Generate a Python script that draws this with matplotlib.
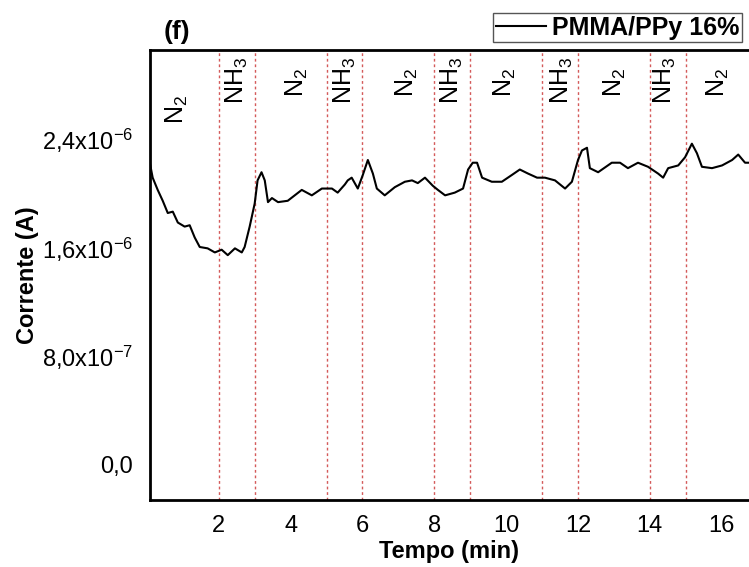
import numpy as np
import matplotlib.pyplot as plt
import matplotlib.transforms as mtransforms

plt.rcParams['font.family'] = ['Liberation Sans', 'DejaVu Sans']
plt.rcParams['mathtext.fontset'] = 'custom'
plt.rcParams['mathtext.rm'] = 'Liberation Sans'
plt.rcParams['mathtext.it'] = 'Liberation Sans'

# (time in min, current in 1e-6 A)
tempo = [0.08, 0.16, 0.30, 0.44, 0.58, 0.72, 0.86, 1.05, 1.19, 1.33, 1.47, 1.69, 1.89,
         2.08, 2.25, 2.45, 2.64, 2.72, 2.86, 3.00, 3.08, 3.19, 3.28, 3.37, 3.48, 3.65,
         3.92, 4.31, 4.59, 4.87, 5.15, 5.31, 5.51, 5.59, 5.70, 5.87, 6.01, 6.15, 6.29,
         6.40, 6.62, 6.90, 7.18, 7.38, 7.54, 7.74, 7.96, 8.10, 8.30, 8.57, 8.80, 8.94,
         9.07, 9.19, 9.33, 9.60, 9.88, 10.16, 10.38, 10.61, 10.86, 11.08, 11.36, 11.64,
         11.83, 12.00, 12.11, 12.25, 12.33, 12.56, 12.94, 13.17, 13.39, 13.67, 13.95,
         14.23, 14.37, 14.51, 14.79, 14.98, 15.17, 15.31, 15.45, 15.73, 16.01, 16.29,
         16.46, 16.65, 16.76]
corrente = [2.22, 2.11, 2.02, 1.94, 1.85, 1.86, 1.78, 1.75, 1.76, 1.67, 1.60, 1.59, 1.56,
            1.58, 1.54, 1.59, 1.56, 1.60, 1.75, 1.92, 2.09, 2.15, 2.09, 1.93, 1.96, 1.93,
            1.94, 2.02, 1.98, 2.03, 2.03, 2.00, 2.06, 2.09, 2.11, 2.03, 2.13, 2.24, 2.14,
            2.03, 1.98, 2.04, 2.08, 2.09, 2.07, 2.11, 2.05, 2.02, 1.98, 2.00, 2.03, 2.17,
            2.22, 2.22, 2.11, 2.08, 2.08, 2.13, 2.17, 2.14, 2.11, 2.11, 2.09, 2.03,
            2.08, 2.24, 2.31, 2.33, 2.18, 2.15, 2.22, 2.22, 2.18, 2.22, 2.19,
            2.14, 2.11, 2.18, 2.20, 2.26, 2.36, 2.29, 2.19, 2.18, 2.20, 2.24,
            2.28, 2.22, 2.22]

trocas = [2, 3, 5, 6, 8, 9, 11, 12, 14, 15]   # gas switching times
gases = ['N$_2$', 'NH$_3$', 'N$_2$', 'NH$_3$', 'N$_2$', 'NH$_3$',
         'N$_2$', 'NH$_3$', 'N$_2$', 'NH$_3$', 'N$_2$']
gas_x = [0.83, 2.50, 4.17, 5.51, 7.24, 8.49, 9.97, 11.55, 13.03, 14.42, 15.90]
gas_y = [0.867, 0.933, 0.927, 0.933, 0.927, 0.933, 0.927, 0.933, 0.927, 0.933, 0.927]

xticks = [2, 4, 6, 8, 10, 12, 14, 16]
yticks = [0, 0.8e-6, 1.6e-6, 2.4e-6]
ylabels = ['0,0', '8,0x10$^{-7}$', '1,6x10$^{-6}$', '2,4x10$^{-6}$']

fig = plt.figure(figsize=(7.49, 5.67), dpi=100)
ax = fig.add_axes([0.200, 0.118, 0.80, 0.794])

for t in trocas:
    ax.axvline(t, color='#d45a5a', lw=1.0, ls=(0, (2, 2)), zorder=1)

ax.plot(tempo, np.array(corrente) * 1e-6, color='black', lw=1.5, zorder=3,
        label='PMMA/PPy 16%')

trans = mtransforms.blended_transform_factory(ax.transData, ax.transAxes)
for g, gx, gy in zip(gases, gas_x, gas_y):
    ax.text(gx, gy, g, rotation=90, ha='center', va='center', fontsize=18,
            transform=trans)

ax.set_xlim(0.08, 16.76)
ax.set_ylim(-0.262e-6, 3.05e-6)
ax.set_xticks(xticks)
ax.set_xticklabels([str(v) for v in xticks])
ax.set_yticks(yticks)
ax.set_yticklabels(ylabels)
ax.tick_params(length=0, labelsize=17, pad=12)
ax.tick_params(axis='x', pad=11)

for s in ['left', 'bottom', 'top']:
    ax.spines[s].set_linewidth(2)
ax.spines['right'].set_visible(False)

ax.set_xlabel('Tempo (min)', fontsize=17, fontweight='bold', labelpad=2)
ax.set_ylabel('Corrente (A)', fontsize=17, fontweight='bold', labelpad=2)
fig.text(177 / 749, 1 - 32 / 567, '(f)', fontsize=19, fontweight='bold',
         ha='center', va='center')

leg = fig.legend(loc='upper left', bbox_to_anchor=(493 / 749, 1 - 13 / 567),
                 frameon=True, fancybox=False, edgecolor='#555555', framealpha=1,
                 prop={'size': 18, 'weight': 'bold'}, handlelength=2.0,
                 handletextpad=0.25, borderpad=0.1, borderaxespad=0)
leg.get_frame().set_linewidth(1)

fig.savefig('out.png', dpi=100)
